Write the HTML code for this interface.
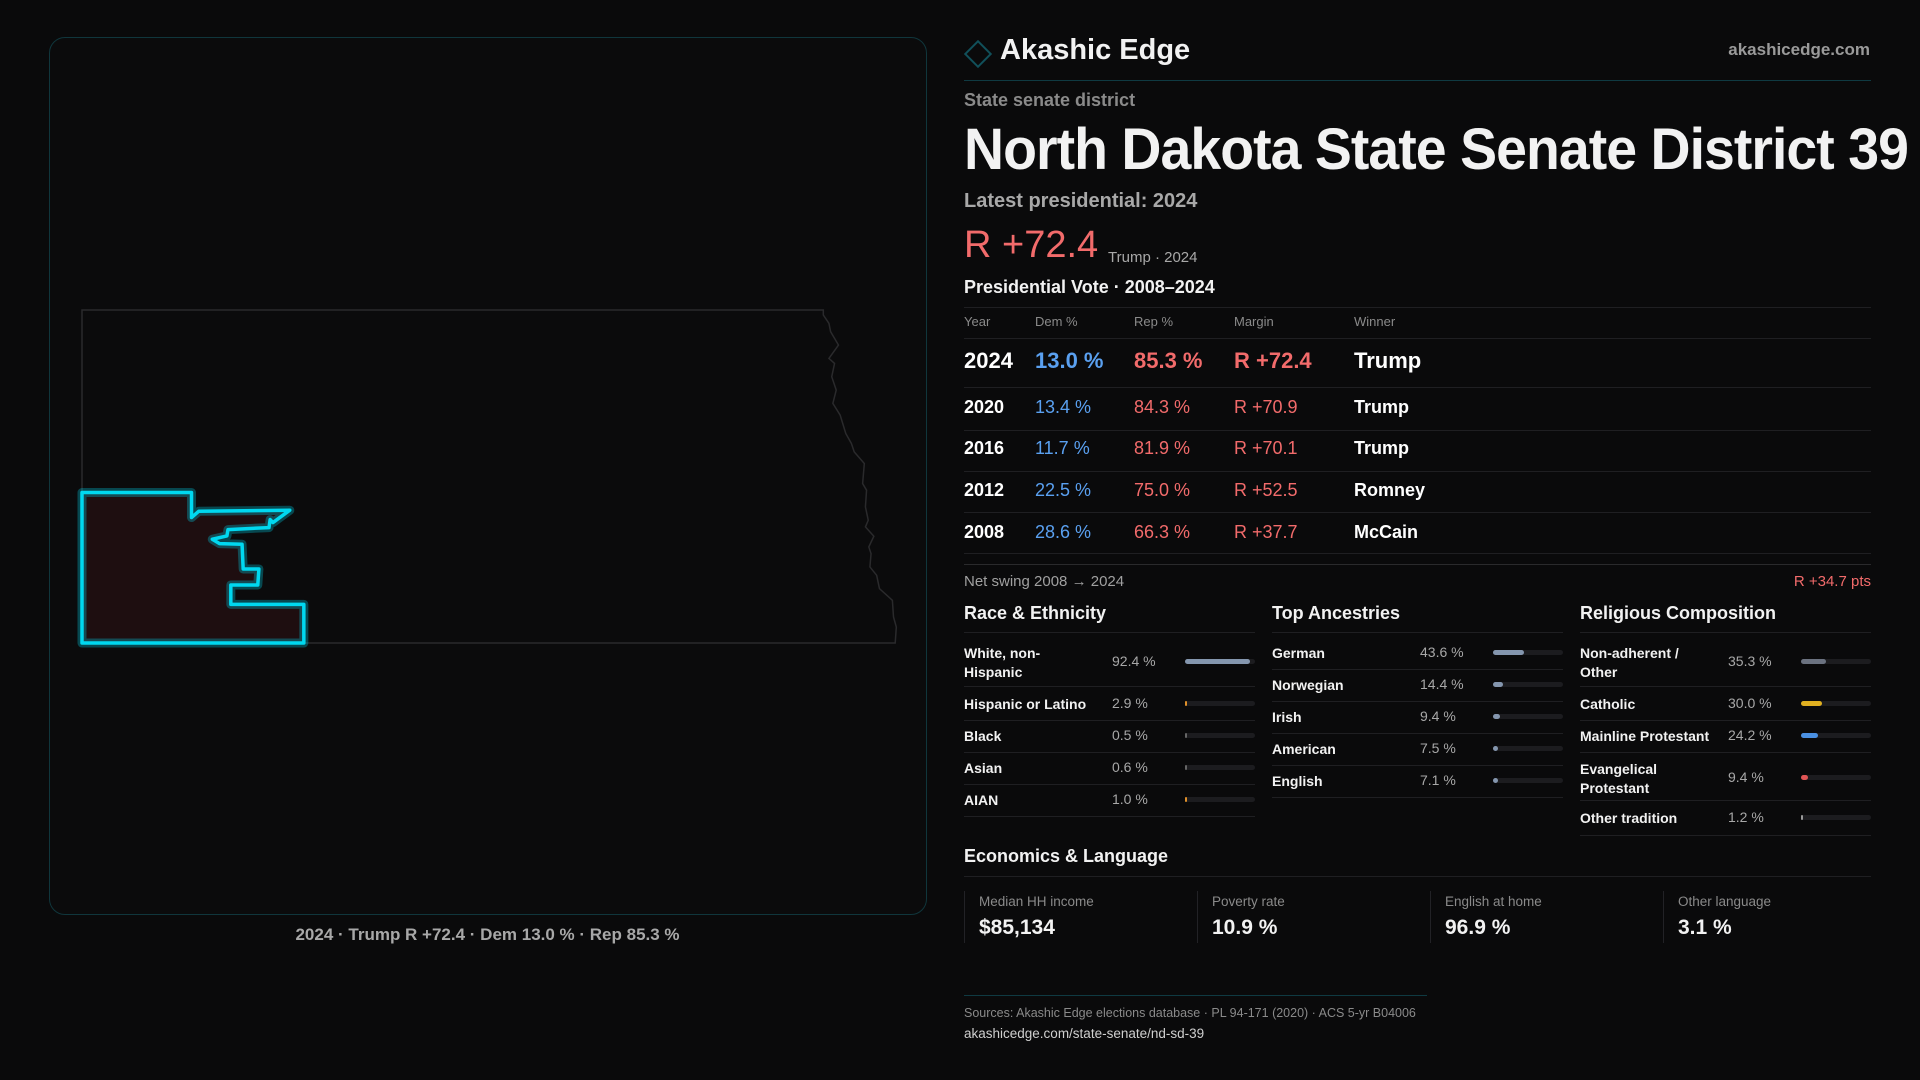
<!DOCTYPE html>
<html><head><meta charset="utf-8">
<style>
*{margin:0;padding:0;box-sizing:border-box}
body{width:1920px;height:1080px;background:#0a0a0b;font-family:"Liberation Sans",sans-serif;color:#f2f2f2;position:relative;overflow:hidden}
.abs{position:absolute;white-space:nowrap}
.gray{color:#9a9a9a}
.hl{position:absolute;height:1px;background:#1f1f22}
.red{color:#f26b6b}.blue{color:#5aa0f0}
</style></head><body>
<div class="abs" style="left:49px;top:37px;width:878px;height:878px;border:1px solid #10363c;border-radius:16px;background:#0b0b0c"></div>
<svg class="abs" style="left:0;top:0" width="960" height="1000">
<g transform="translate(82 310) scale(0.5616 0.3337) translate(-75 -90)">
<path vector-effect="non-scaling-stroke" fill="none" stroke="#2a2a2c" stroke-width="1.5" d="M75,1088 L75,90 L1395,90 L1395,105 L1405,130 L1408,155 L1422,195 L1405,235 L1415,250 L1410,290 L1418,330 L1412,370 L1425,405 L1435,460 L1445,490 L1450,515 L1468,550 L1465,610 L1472,630 L1470,680 L1475,720 L1470,740 L1485,768 L1476,800 L1480,820 L1478,860 L1490,885 L1495,925 L1518,960 L1520,1010 L1525,1040 L1523,1088 Z"/>
<path id="dist" vector-effect="non-scaling-stroke" fill="#1e0e10" stroke="#00d8f0" stroke-opacity="0.3" stroke-width="9" stroke-linejoin="round" d="M75,637 L270,637 L270,712 L283,693 L445,690 L415,727 L410,718 L408,742 L335,748 L333,767 L307,777 L320,790 L360,792 L362,866 L390,866 L388,914 L340,914 L340,972 L470,972 L470,1088 L75,1088 Z"/>
<path vector-effect="non-scaling-stroke" fill="none" stroke="#00d8f0" stroke-width="3.5" stroke-linejoin="round" d="M75,637 L270,637 L270,712 L283,693 L445,690 L415,727 L410,718 L408,742 L335,748 L333,767 L307,777 L320,790 L360,792 L362,866 L390,866 L388,914 L340,914 L340,972 L470,972 L470,1088 L75,1088 Z"/>
</g></svg>
<div class="abs gray" style="left:0;width:975px;text-align:center;top:925px;font-size:17px;font-weight:bold;color:#a8a8a8">2024 · Trump R +72.4 · Dem 13.0 % · Rep 85.3 %</div>

<div class="abs" style="left:968px;top:44px;width:20px;height:20px;border:2px solid #11505a;transform:rotate(45deg)"></div>
<div class="abs" style="left:1000px;top:34px;font-size:29px;font-weight:bold">Akashic Edge</div>
<div class="abs gray" style="right:50px;top:40px;font-size:17px;font-weight:bold">akashicedge.com</div>
<div class="hl" style="left:964px;width:907px;top:80px;background:#0f3a42"></div>
<div class="abs gray" style="left:964px;top:90px;font-size:18px;font-weight:bold;color:#8a8a8a">State senate district</div>
<div class="abs" id="title" style="left:964px;top:116px;font-size:58px;font-weight:bold;transform-origin:0 0;letter-spacing:-1px">North Dakota State Senate District 39</div>
<div class="abs gray" style="left:964px;top:190px;font-size:20px;font-weight:bold;color:#a8a8a8">Latest presidential: 2024</div>
<div class="abs red" style="left:964px;top:224px;font-size:38px">R +72.4</div>
<div class="abs gray" style="left:1108px;top:249px;font-size:15px;color:#a8a8a8">Trump · 2024</div>
<div class="abs" style="left:964px;top:277px;font-size:18px;font-weight:bold">Presidential Vote · 2008–2024</div>
<div id="table"></div>
<div class="hl" style="left:964px;width:907px;top:564px;background:#2a2a2c"></div>
<div class="abs gray" style="left:964px;top:573px;font-size:15px;color:#a0a0a0">Net swing 2008 → 2024</div>
<div class="abs red" style="right:49px;top:573px;font-size:15px">R +34.7 pts</div>
<div id="cols"></div>
<div class="abs" style="left:964px;top:846px;font-size:18px;font-weight:bold">Economics &amp; Language</div>
<div class="hl" style="left:964px;width:907px;top:876px"></div>
<div id="econ"></div>
<div class="hl" style="left:964px;width:463px;top:995px;background:#0f3a42"></div>
<div class="abs gray" style="left:964px;top:1006px;font-size:12.5px;color:#8a8a8a">Sources: Akashic Edge elections database · PL 94-171 (2020) · ACS 5-yr B04006</div>
<div class="abs" style="left:964px;top:1026px;font-size:13.5px;color:#cfcfcf">akashicedge.com/state-senate/nd-sd-39</div>

<script>
const years=["2024","2020","2016","2012","2008"];
const demPct=[13.0,13.4,11.7,22.5,28.6];
const repPct=[85.3,84.3,81.9,75.0,66.3];
const margins=[72.4,70.9,70.1,52.5,37.7];
const winners=["Trump","Trump","Trump","Romney","McCain"];
const raceLabels=["White, non-<br>Hispanic","Hispanic or Latino","Black","Asian","AIAN"];
const raceVals=[92.4,2.9,0.5,0.6,1.0];
const raceColors=["#8496ae","#e0902a","#666","#666","#e0902a"];
const ancLabels=["German","Norwegian","Irish","American","English"];
const ancVals=[43.6,14.4,9.4,7.5,7.1];
const relLabels=["Non-adherent /<br>Other","Catholic","Mainline Protestant","Evangelical<br>Protestant","Other tradition"];
const relVals=[35.3,30.0,24.2,9.4,1.2];
const relColors=["#6b7280","#e0b020","#4a90e2","#e05555","#9a9a9a"];
const econLabels=["Median HH income","Poverty rate","English at home","Other language"];
const econVals=["$85,134","10.9 %","96.9 %","3.1 %"];

function el(tag,css,html,parent){const e=document.createElement(tag);e.className='abs';e.style.cssText=css;if(html!=null)e.innerHTML=html;(parent||document.body).appendChild(e);return e;}
function hl(top,left,w,c){const e=document.createElement('div');e.className='hl';e.style.cssText=`left:${left}px;width:${w}px;top:${top}px;`+(c?`background:${c}`:'');


document.body.appendChild(e);}

const cx=[964,1035,1134,1234,1354];
const heads=["Year","Dem %","Rep %","Margin","Winner"];
heads.forEach((h,i)=>{const e=el('div',`left:${cx[i]}px;top:314px;font-size:13px;color:#8a8a8a`,h);

});
hl(307,964,907);hl(338,964,907);
const rowY=[361,408,449,491,533];
years.forEach((y,i)=>{
  const big=i===0;const fs=big?22:18;const t=rowY[i]-fs*0.6;
  const vals=[y,demPct[i].toFixed(1)+' %',repPct[i].toFixed(1)+' %','R +'+margins[i].toFixed(1),winners[i]];
  const cols=['#fff','#5aa0f0','#f26b6b','#f26b6b','#fff'];
  vals.forEach((v,j)=>{const e=el('div',`left:${cx[j]}px;top:${t}px;font-size:${fs}px;color:${cols[j]};font-weight:${j==0||j==4||big?'bold':'normal'}`,v);
  
  });
  if(i<4)hl([387,430,471,512][i],964,907);
});
hl(553,964,907);

function column(x,title,labels,vals,colors,rowsY,linesY,key){
  const h=el('div',`left:${x}px;top:603px;font-size:18px;font-weight:bold`,title);
  
  
  hl(632,x,291);
  labels.forEach((l,i)=>{
    const two=l.includes('<br>');const y=rowsY[i];
    const a=el('div',`left:${x}px;top:${y-(two?18:9)}px;font-size:14px;font-weight:bold;line-height:19px`,l);
    
    
    const v=el('div',`left:${x+148}px;top:${y-9}px;font-size:14px;color:#a8a8a8`,vals[i].toFixed(1)+' %');
    
    
    const track=el('div',`left:${x+221}px;top:${y-3}px;width:70px;height:5px;border-radius:3px;background:#1c1c1f`,'');
    
    
    const w=Math.max(2,vals[i]/100*70);
    const f=el('div',`left:0;top:0;width:${w}px;height:5px;border-radius:3px;background:${colors[i]}`,'',track);
    
    
  });
  linesY.forEach(y=>hl(y,x,291));
}
column(964,"Race &amp; Ethnicity",raceLabels,raceVals,raceColors,[662,704,736,768,800],[686,720,752,784,816],'race');
column(1272,"Top Ancestries",ancLabels,ancVals,ancVals.map(()=>"#8496ae"),[653,685,717,749,781],[669,701,733,765,797],'ancestry');
column(1580,"Religious Composition",relLabels,relVals,relColors,[662,704,736,778,818],[686,720,752,800,835],'religion');

econLabels.forEach((l,i)=>{
  const x=964+i*233;
  const b=el('div',`left:${x}px;top:891px;width:1px;height:52px;background:#222226`,'');
  
  
  const a=el('div',`left:${x+15}px;top:894px;font-size:13.5px;color:#8a8a8a`,l);
  
  
  const v=el('div',`left:${x+15}px;top:916px;font-size:21px;font-weight:bold`,econVals[i]);
  
  
});

const t=document.getElementById('title');
const sw=t.scrollWidth;t.style.transform=`scaleX(${944/sw})`;
</script>
</body></html>
